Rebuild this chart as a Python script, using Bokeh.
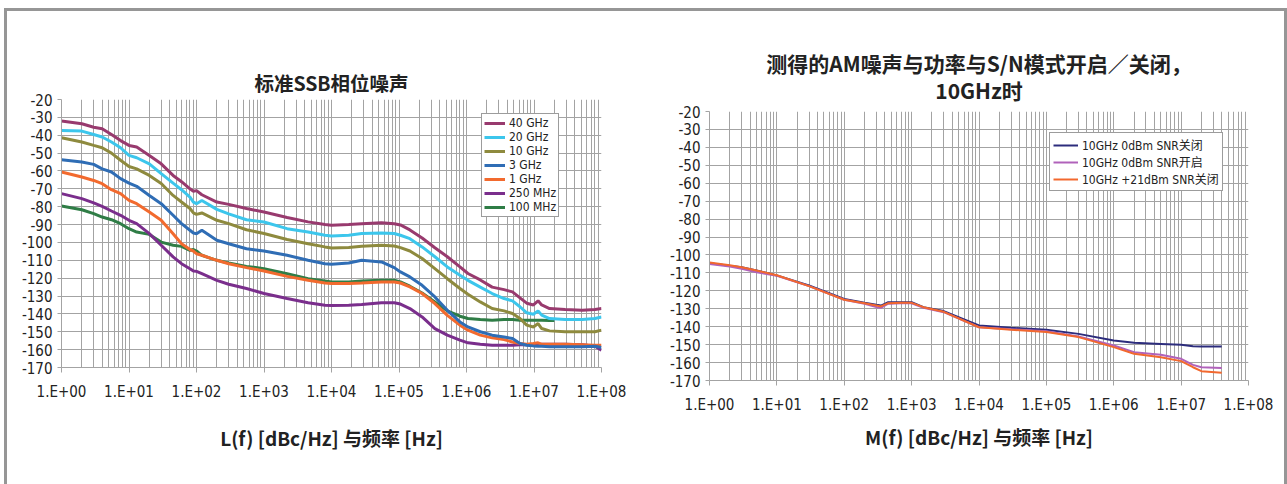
from bokeh.plotting import figure
from bokeh.models import Range1d, FixedTicker
from bokeh.layouts import row
from bokeh.embed import file_html
from bokeh.resources import INLINE

# ---------------- data ----------------
X_TICKS = [1, 10, 100, 1000, 10000, 100000, 1000000, 10000000, 100000000]
X_TICK_LABELS = ["1.E+00", "1.E+01", "1.E+02", "1.E+03", "1.E+04",
                 "1.E+05", "1.E+06", "1.E+07", "1.E+08"]
Y_TICKS = [-170, -160, -150, -140, -130, -120, -110, -100, -90, -80,
           -70, -60, -50, -40, -30, -20]
Y_TICK_LABELS = ["-170", "-160", "-150", "-140", "-130", "-120", "-110", "-100",
                 "-90", "-80", "-70", "-60", "-50", "-40", "-30", "-20"]

# left chart: standard SSB phase noise
F_L = [1, 2, 3, 4, 5.5, 7.5, 10, 13, 20, 30, 45, 60, 80, 90, 100, 120, 200, 300,
       550, 1000, 2200, 4500, 8000, 1e4, 1.8e4, 2.8e4, 5.5e4, 8.5e4, 1.05e5,
       1.45e5, 2.2e5, 3.4e5, 5.2e5, 8e5, 1.05e6, 1.6e6, 2.4e6, 3.6e6, 4.8e6,
       6.2e6, 7.8e6, 9.8e6, 1.15e7, 1.3e7, 1.7e7, 2.9e7, 5.2e7, 8e7, 1e8]
L_40G = [-32, -33.6, -35.5, -36.4, -39.6, -43, -45.7, -46.6, -51.3, -56, -62.5,
         -66, -70, -71.4, -71, -73.3, -77.4, -78.7, -81, -83, -86, -88.5, -90,
         -90.4, -90, -89.5, -89, -89.5, -90.2, -93, -97.5, -103, -108, -113.7,
         -117.4, -121, -125, -126.4, -127.7, -131, -134, -135, -132.7, -135,
         -137, -137.6, -138, -137.5, -137]
L_20G = [-37.3, -37.7, -39.6, -41, -43.8, -47, -51.3, -52.6, -56, -61.5, -66.8,
         -70.5, -74.6, -77.4, -78.3, -76.5, -81.5, -84, -87.3, -88.6, -92.3,
         -94.2, -96, -96.4, -96, -95, -94.7, -95, -96, -97.9, -102.5, -108,
         -113.7, -118.4, -121.2, -125, -128.6, -131.4, -132.7, -136, -139.4,
         -140.2, -138.3, -140.7, -142.6, -143.2, -143.2, -142.6, -141.7]
L_10G = [-41.4, -43.8, -45.7, -47, -50, -54, -57.5, -58.8, -62.5, -67, -73.7,
         -77.4, -81, -83.5, -84.3, -83.5, -87.6, -89.5, -92.9, -95, -98.4,
         -100.7, -102.5, -103.1, -102.9, -102.2, -101.6, -102, -102.9, -104.8,
         -109, -114.7, -120.3, -125.8, -129, -133.3, -137, -138.3, -139.8,
         -142.6, -146.3, -147.3, -145.4, -148.2, -149.5, -150, -150, -150, -149.1]
L_3G = [-53.7, -55, -56.3, -58.8, -60.6, -64.3, -66.8, -68.6, -73.7, -78.3,
        -84.8, -89.5, -93.2, -94.7, -95.1, -93.2, -98.8, -100.7, -103.5, -104.8,
        -107.2, -110, -111.9, -112.2, -111.5, -110, -110.9, -114.1, -116.5,
        -119.3, -124, -130.5, -138, -144.5, -147.3, -150, -151.9, -152.9,
        -153.8, -156.6, -157.5, -157.9, -158.1, -158.1, -158.4, -158.4, -158.4,
        -158.1, -158.8]
L_1G = [-60.6, -63.4, -65.3, -67.1, -70.5, -72.7, -76.5, -78.3, -83, -87.6,
        -95.1, -100.7, -104, -104.8, -106.3, -107.2, -110, -111.9, -114.1, -116,
        -119, -121.2, -122.7, -123, -123, -122.7, -122.1, -122.1, -122.7, -124.9,
        -128.6, -134.2, -140.8, -146.3, -149.1, -151.9, -153.4, -154.4, -155.7,
        -156.6, -157, -156.6, -156.2, -157, -157, -157, -157.2, -157.5, -157.5]
L_250M = [-72.7, -75.5, -77.9, -79.8, -82.4, -84.8, -87.6, -89.5, -95.1, -101.6,
          -108.1, -111.9, -114.7, -116, -116.2, -117.5, -121.2, -123.4, -125.8,
          -128.6, -131.4, -133.8, -135.2, -135.3, -135.2, -134.8, -133.8, -133.8,
          -134.5, -137, -141.7, -148.2, -151.9, -154.7, -156.2, -157, -157.5,
          -157.5, -157.5, -157.2, -157.2, -157.2, -157, -157, -157, -157, -157.2,
          -158.1, -160.3]
F_100M = [1, 2, 3, 4, 5.5, 7.5, 10, 13, 20, 30, 45, 60, 80, 90, 100, 120, 200, 300,
          550, 1000, 2200, 4500, 8000, 1e4, 1.8e4, 2.8e4, 5.5e4, 8.5e4, 1.05e5,
          1.45e5, 2.2e5, 3.4e5, 5.2e5, 8e5, 1.05e6, 1.6e6, 2.4e6, 3.6e6, 4.8e6,
          6.2e6, 7.8e6, 9.8e6, 1.15e7, 1.3e7, 1.7e7, 2e7]
L_100M = [-79.6, -81.7, -83.9, -85.8, -87.3, -89.5, -92.3, -94.2, -95.5, -99.8,
          -101.6, -102.2, -104.4, -104, -104.8, -107.2, -110, -111.5, -113.4,
          -114.7, -117.5, -120.3, -121.6, -122.1, -122.1, -121.6, -121.2, -121.2,
          -122.1, -124.5, -128.3, -133.3, -138.3, -141.3, -142.6, -143.2, -143.5,
          -143.2, -143.2, -143.5, -143.5, -143.5, -143.5, -143.5, -143.7, -143.7]

LEFT_NAMES = ["40 GHz", "20 GHz", "10 GHz", "3 GHz", "1 GHz", "250 MHz", "100 MHz"]
LEFT_COLORS = ["#983A6E", "#3CC6EC", "#8E8A3E", "#2F6DB5", "#F26A2E", "#7A2E8C", "#2F7D46"]

# right chart: AM noise
F_R = [1, 2, 3, 5, 10, 30, 100, 200, 300, 350, 450, 700, 1000, 1500, 3000, 1e4,
       3e4, 1e5, 3e5, 1e6, 2e6, 5e6, 1e7, 1.5e7, 2e7, 4e7]
M_0DBM_OFF = [-104.6, -106, -106.8, -108.7, -111.4, -117, -124.5, -126.7, -127.8,
              -128.2, -126.3, -126.3, -126.3, -129.1, -131.3, -139.3, -140.6,
              -141.7, -144, -147.7, -149, -149.6, -150.1, -150.9, -151, -151]
M_0DBM_ON = [-105, -106.4, -107.7, -109.6, -111.6, -117.4, -125, -127.2, -129.1,
             -129.5, -127.2, -126.9, -126.9, -129.5, -131.9, -140.3, -141.4,
             -142.5, -145.5, -150.5, -154.2, -155.7, -157.9, -161.3, -162.6, -163]
M_21DBM_OFF = [-104.2, -105.7, -106.8, -108.7, -111.3, -117.4, -125, -126.9,
               -128.2, -128.7, -126.9, -126.7, -126.7, -129.1, -131.7, -140.3,
               -141.7, -143, -145.8, -151.4, -155.1, -157, -159.2, -162.6, -164.8,
               -165.7]
RIGHT_NAMES = ["10GHz 0dBm SNR关闭", "10GHz 0dBm SNR开启", "10GHz +21dBm SNR关闭"]
RIGHT_COLORS = ["#2C2C7C", "#B062BA", "#F2682E"]

TITLE_L = "标准SSB相位噪声"
TITLE_R = ["测得的AM噪声与功率与S/N模式开启／关闭，", "10GHz时"]
XLABEL_L = "L(f) [dBc/Hz] 与频率 [Hz]"
XLABEL_R = "M(f) [dBc/Hz] 与频率 [Hz]"

# ---------------- style ----------------
NARROW = "DejaVu Sans Condensed"
MIXED = "DejaVu Sans Condensed, Noto Sans CJK SC"
CJK_FONT = "Noto Sans CJK SC"
GRID = "#a3a3a3"
FRAME = "3px solid #969696"
MINOR = [m * d for d in X_TICKS[:-1] for m in range(2, 10)]


def make_fig(width, height, left, right, top, bottom):
    p = figure(width=width, height=height, x_axis_type="log",
               x_range=Range1d(1, 1e8), y_range=Range1d(-170, -20),
               output_backend="svg", toolbar_location=None,
               min_border_left=left, min_border_right=right,
               min_border_top=top, min_border_bottom=bottom)
    p.frame_align = False
    p.outline_line_color = None
    p.background_fill_color = "white"
    p.border_fill_color = "white"
    p.xaxis.ticker = FixedTicker(ticks=X_TICKS, minor_ticks=MINOR)
    p.yaxis.ticker = FixedTicker(ticks=Y_TICKS)
    p.xaxis.major_label_overrides = dict(zip(X_TICKS, X_TICK_LABELS))
    p.yaxis.major_label_overrides = dict(zip(Y_TICKS, Y_TICK_LABELS))
    for ax in (p.xaxis, p.yaxis):
        ax.axis_line_color = GRID
        ax.major_tick_line_color = GRID
        ax.major_tick_out = 5
        ax.major_tick_in = 0
        ax.minor_tick_line_color = None
        ax.major_label_text_font = NARROW
        ax.major_label_text_font_size = "15px"
        ax.major_label_text_color = "#222222"
        ax.axis_label_text_font = CJK_FONT
        ax.axis_label_text_font_style = "bold"
        ax.axis_label_text_font_size = "19px"
        ax.axis_label_text_color = "#222222"
    p.yaxis.major_tick_out = 4
    p.yaxis.major_label_standoff = 5
    p.xaxis.major_label_standoff = 10
    p.xgrid.grid_line_color = GRID
    p.xgrid.minor_grid_line_color = GRID
    p.ygrid.grid_line_color = GRID
    return p


def style_legend(p, loc, glyph_w, row_h, font, pad):
    lg = p.legend[0]
    lg.location = loc
    lg.margin = 0
    lg.padding = pad
    lg.spacing = 0
    lg.glyph_width = glyph_w
    lg.glyph_height = row_h
    lg.label_height = row_h
    lg.label_standoff = 4
    lg.label_text_font = font
    lg.label_text_font_size = "12px"
    lg.label_text_color = "#222222"
    lg.border_line_color = "#3a3a3a"
    lg.border_line_width = 1
    lg.background_fill_alpha = 1


# ---------------- left figure ----------------
p1 = make_fig(633, 473, 54, 39, 88, 117)
p1.title.text = TITLE_L
p1.title.align = "center"
p1.title.text_font = CJK_FONT
p1.title.text_font_size = "19.5px"
p1.title.text_color = "#222222"
p1.title.standoff = 6
p1.xaxis.axis_label = XLABEL_L
p1.xaxis.axis_label_standoff = 20

left_series = [L_40G, L_20G, L_10G, L_3G, L_1G, L_250M, L_100M]
left_x = [F_L, F_L, F_L, F_L, F_L, F_L, F_100M]
# draw bottom-most first so the top series stay visible
for xs, ys, name, col in reversed(list(zip(left_x, left_series, LEFT_NAMES, LEFT_COLORS))):
    p1.line(xs, ys, line_color=col, line_width=3, legend_label=name)
p1.legend[0].items = list(reversed(p1.legend[0].items))
style_legend(p1, (420, 150), 21, 14, NARROW, 2)

# ---------------- right figure ----------------
p2 = make_fig(644, 473, 69, 36, 100, 104)
p2.title.text = "\n".join(TITLE_R)
p2.title.align = "center"
p2.title.text_align = "center"
p2.title.text_font = CJK_FONT
p2.title.text_font_size = "21px"
p2.title.text_line_height = 0.9
p2.title.text_color = "#222222"
p2.title.standoff = 13
p2.xaxis.axis_label = XLABEL_R
p2.xaxis.axis_label_standoff = 6

right_series = [M_0DBM_OFF, M_0DBM_ON, M_21DBM_OFF]
for ys, name, col in zip(right_series, RIGHT_NAMES, RIGHT_COLORS):
    p2.line(F_R, ys, line_color=col, line_width=2, legend_label=name)
style_legend(p2, (340, 189), 25, 16, MIXED, 3)

layout = row(p1, p2, styles={"margin-left": "4px", "margin-top": "8px",
                             "border-top": FRAME, "border-left": FRAME,
                             "border-right": FRAME})

with open("out.html", "w") as f:
    f.write(file_html(layout, INLINE))
